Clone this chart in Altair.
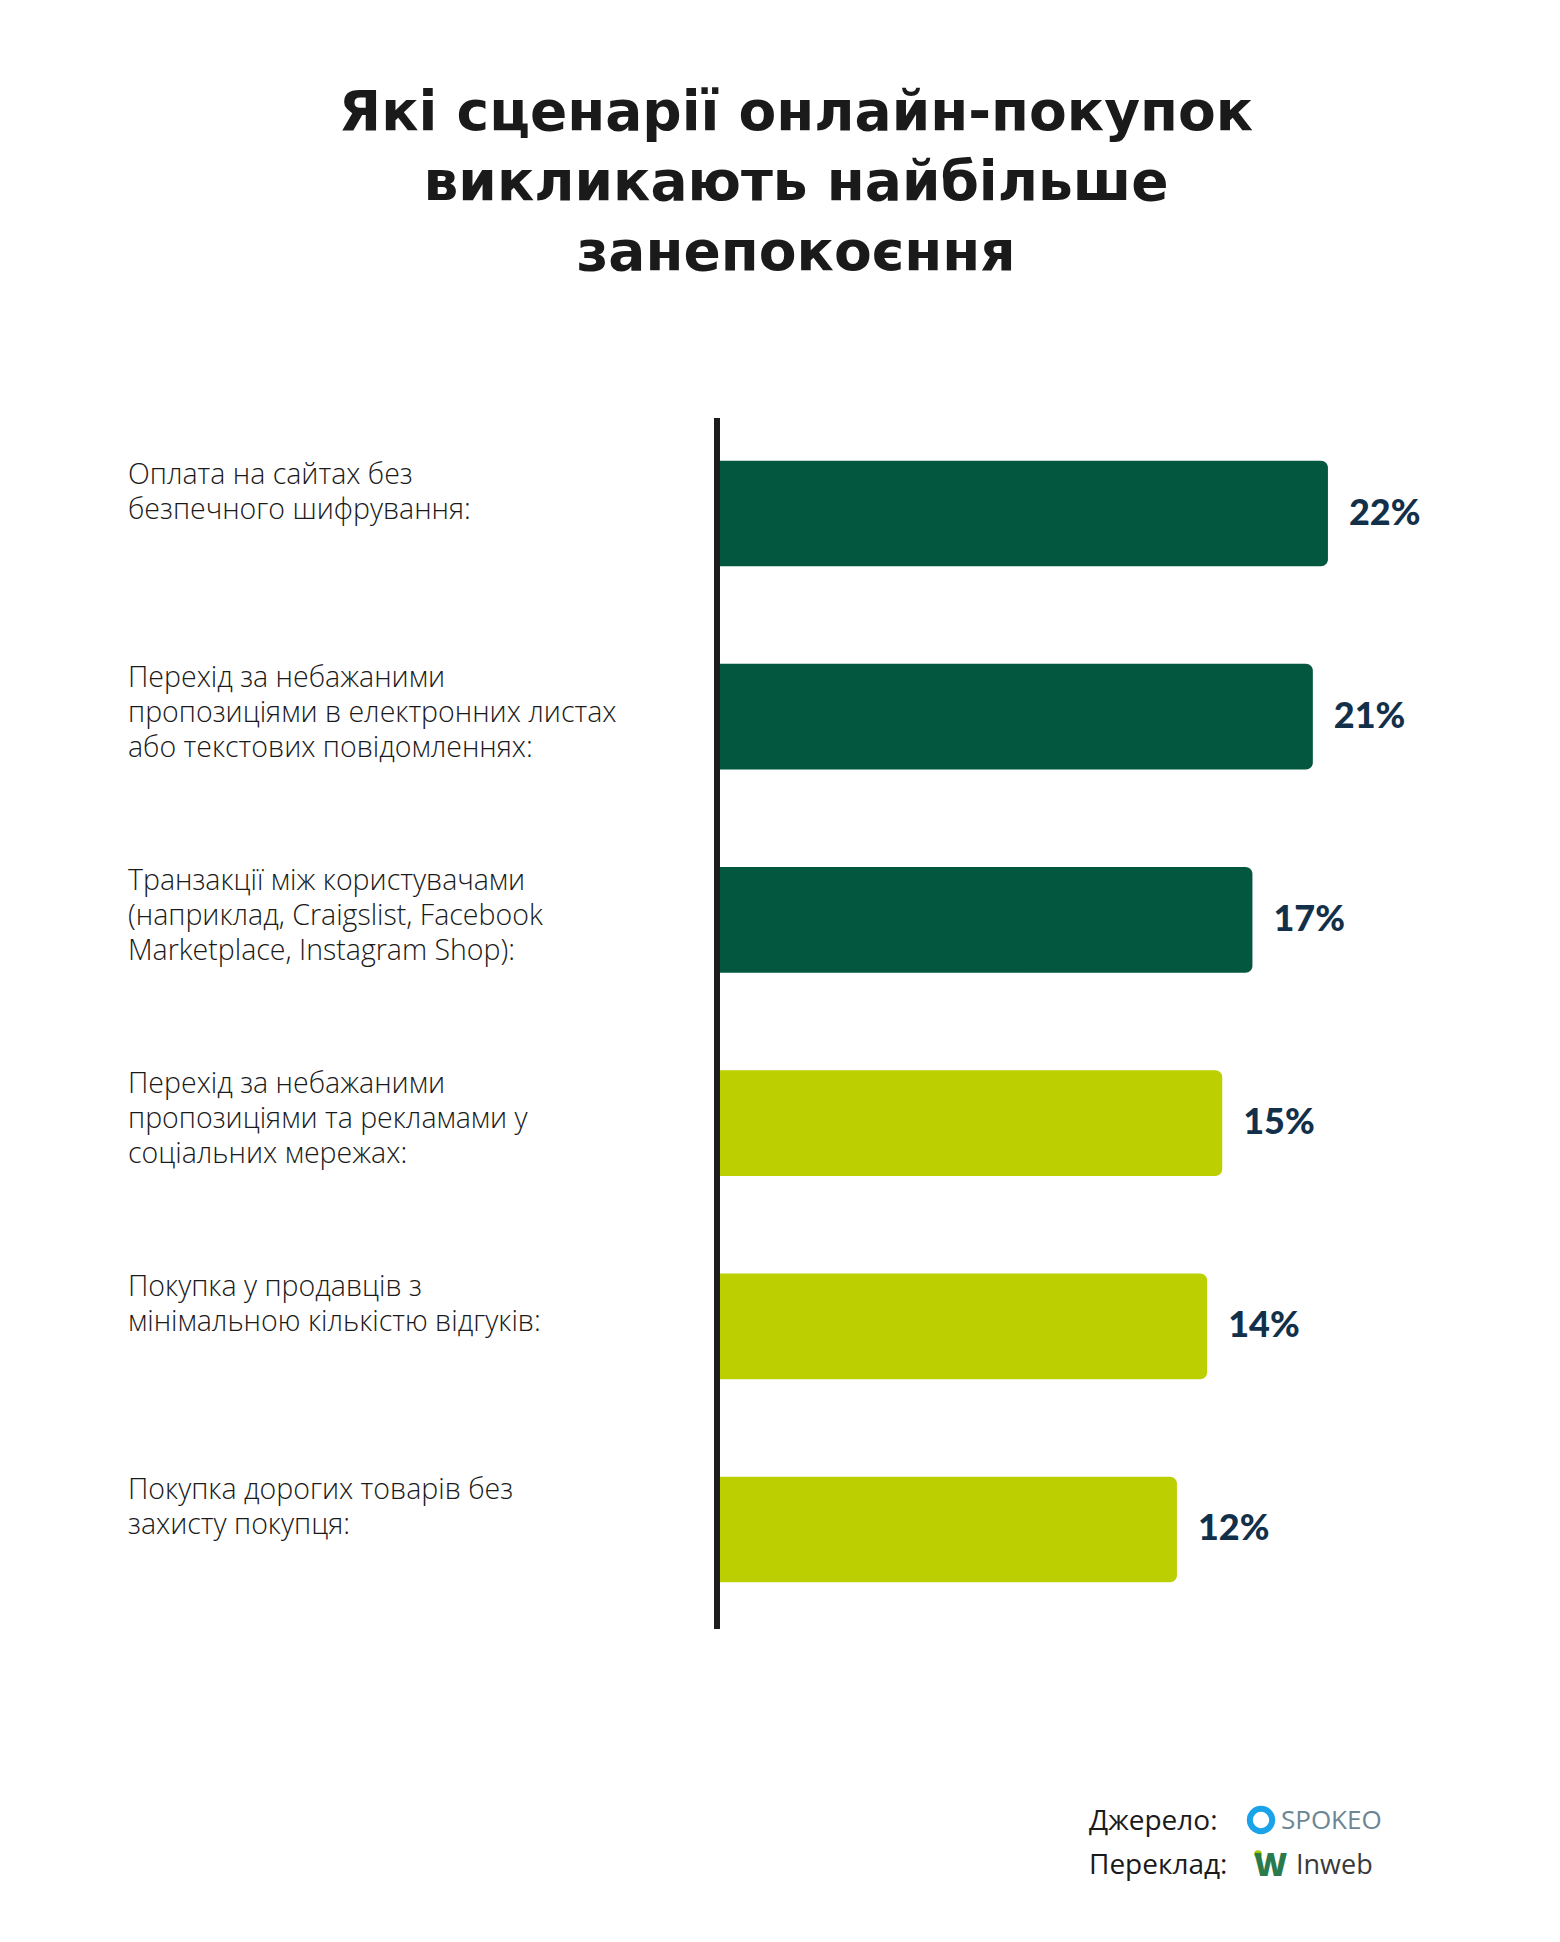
import altair as alt
import pandas as pd

# ---- data ----
categories = [
    "Оплата на сайтах без\nбезпечного шифрування:",
    "Перехід за небажаними\nпропозиціями в електронних листах\nабо текстових повідомленнях:",
    "Транзакції між користувачами\n(наприклад, Craigslist, Facebook\nMarketplace, Instagram Shop):",
    "Перехід за небажаними\nпропозиціями та рекламами у\nсоціальних мережах:",
    "Покупка у продавців з\nмінімальною кількістю відгуків:",
    "Покупка дорогих товарів без\nзахисту покупця:",
]
values = [22, 21, 17, 15, 14, 12]
value_labels = ["22%", "21%", "17%", "15%", "14%", "12%"]
groups = ["top", "top", "top", "rest", "rest", "rest"]

title_lines = ["Які сценарії онлайн-покупок", "викликають найбільше", "занепокоєння"]

df = pd.DataFrame({"category": categories, "value": values,
                   "label": value_labels, "group": groups})
one = pd.DataFrame({"a": [0]})

W, H = 760, 1207
X_MIN, X_MAX = -18.26, 32.07
LABEL_FONT = "Open Sans"

y = alt.Y("category:N", sort=None, axis=None,
          scale=alt.Scale(paddingInner=0.48, paddingOuter=0.21))
x = alt.X("value:Q", axis=None, scale=alt.Scale(domain=[X_MIN, X_MAX], zero=False))

bars = alt.Chart(df).mark_bar(cornerRadiusTopRight=7, cornerRadiusBottomRight=7).encode(
    x=x, x2=alt.datum(X_MIN), y=y,
    color=alt.Color("group:N", legend=None,
                    scale=alt.Scale(domain=["top", "rest"], range=["#03573f", "#bccf00"])),
)

axis_rule = alt.Chart(one).mark_rule(color="#1c1c1c", strokeWidth=6).encode(
    x=alt.value(-3), y=alt.value(0), y2=alt.value(H + 4)
)

cat_labels = alt.Chart(df).mark_text(
    align="left", baseline="alphabetic", lineBreak="\n", lineHeight=35,
    font=LABEL_FONT, fontSize=28.5, fontWeight=300, color="#1a1a1a", dy=-30,
).encode(y=y, x=alt.value(-592), text="category:N")

val_labels = alt.Chart(df).mark_text(
    align="left", baseline="middle", dx=21,
    font="Lato", fontWeight=900, fontSize=36, color="#13304a",
).encode(x=x, y=y, text="label:N")

title = alt.Chart(one).mark_text(
    text=title_lines, align="center", baseline="alphabetic", lineHeight=70,
    font="DejaVu Sans", fontWeight=700, fontSize=55, color="#1a1a1a",
).encode(x=alt.value(76), y=alt.value(-288))

src_label = alt.Chart(one).mark_text(
    text=["Джерело:", "Переклад:"], align="left", baseline="alphabetic", lineHeight=44,
    font=LABEL_FONT, fontSize=28, fontWeight=400, color="#1a1a1a",
).encode(x=alt.value(369), y=alt.value(1412))

spokeo_icon = alt.Chart(one).mark_point(
    shape="circle", size=500, filled=False, strokeWidth=6, color="#1ba3ea", opacity=1
).encode(x=alt.value(541), y=alt.value(1402))

spokeo_text = alt.Chart(one).mark_text(
    text="SPOKEO", align="left", baseline="alphabetic",
    font="Open Sans", fontSize=26, fontWeight=400, color="#6d8694",
).encode(x=alt.value(561), y=alt.value(1411))

inweb_dot = alt.Chart(one).mark_point(
    shape="circle", size=60, filled=True, color="#a8c700", opacity=1
).encode(x=alt.value(538), y=alt.value(1436))

inweb_w = alt.Chart(one).mark_text(
    text="W", align="left", baseline="alphabetic",
    font="Open Sans", fontSize=32, fontWeight=800, color="#2a7a4c",
).encode(x=alt.value(534), y=alt.value(1458))

inweb_text = alt.Chart(one).mark_text(
    text="Inweb", align="left", baseline="alphabetic",
    font="Open Sans", fontSize=27, fontWeight=400, color="#3a3a3a",
).encode(x=alt.value(576), y=alt.value(1456))

chart = alt.layer(
    bars, axis_rule, cat_labels, val_labels, title,
    src_label, spokeo_icon, spokeo_text, inweb_dot, inweb_w, inweb_text,
).properties(
    width=W, height=H, autosize="none", background="white",
    padding={"left": 720, "top": 418, "right": 80, "bottom": 1942 - 418 - H},
).configure_view(stroke=None)

chart.save("out.html", embed_options={"renderer": "svg", "actions": False})
